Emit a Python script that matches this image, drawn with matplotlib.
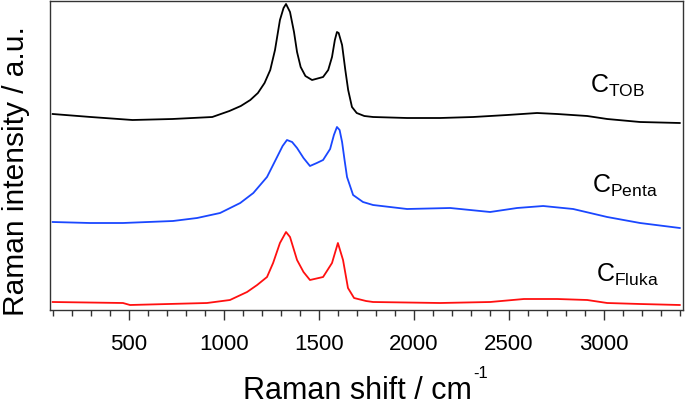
import numpy as np
import matplotlib
matplotlib.use("Agg")
import matplotlib.pyplot as plt
from matplotlib.ticker import MultipleLocator

plt.rcParams['font.family'] = ['Liberation Sans', 'DejaVu Sans']
plt.rcParams['mathtext.fontset'] = 'custom'
plt.rcParams['mathtext.rm'] = 'Liberation Sans'
plt.rcParams['mathtext.it'] = 'Liberation Sans:italic'

# spectra (wavenumber in cm-1, intensity in a.u. incl. offset)
w_tob = [100, 300, 520, 730, 940, 1030, 1090, 1140, 1180, 1215, 1245, 1270, 1296,
         1315, 1328, 1349, 1370, 1386, 1405, 1430, 1465, 1523, 1550, 1570, 1585,
         1596, 1605, 1623, 1640, 1655, 1675, 1700, 1740, 1786, 1965, 2139, 2313,
         2492, 2649, 2755, 2913, 3018, 3191, 3400]
i_tob = [196, 193, 190, 191, 193, 199, 204, 210, 217, 227, 240, 260, 290,
         302, 306, 298, 278, 258, 243, 234, 230, 233, 240, 253, 270,
         278, 277, 265, 240, 220, 203, 197, 194, 193, 192, 192, 193,
         195, 197, 196, 194, 191, 188, 187]

w_penta = [100, 296, 470, 733, 860, 981, 1087, 1156, 1228, 1281, 1310, 1333, 1360,
           1386, 1420, 1454, 1490, 1523, 1560, 1580, 1596, 1610, 1623, 1636, 1649,
           1681, 1733, 1786, 1965, 2192, 2402, 2544, 2681, 2839, 3018, 3191, 3400]
i_penta = [88, 87, 87, 89, 92, 97, 107, 117, 133, 153, 164, 170, 168,
           162, 152, 144, 147, 150, 161, 175, 183, 180, 168, 150, 133,
           115, 108, 105, 101, 102, 98, 102, 104, 101, 93, 87, 82]

w_fluka = [100, 470, 507, 912, 1033, 1123, 1176, 1228, 1260, 1296, 1328, 1349,
           1386, 1420, 1454, 1523, 1570, 1601, 1628, 1654, 1686, 1749, 1786, 2139,
           2402, 2580, 2755, 2913, 3018, 3191, 3400]
i_fluka = [8, 7, 5, 7, 10, 18, 25, 33, 47, 67, 78, 73,
           50, 38, 30, 33, 47, 67, 50, 22, 12, 9, 8, 7,
           8, 11, 11, 10, 7, 6, 5]

names = [r'C$_{\mathrm{TOB}}$', r'C$_{\mathrm{Penta}}$', r'C$_{\mathrm{Fluka}}$']
name_x = [2928, 2940, 2960]
name_y = [217, 117, 28]

W, H = 685, 405
fig = plt.figure(figsize=(W/100, H/100), dpi=100)
ax = fig.add_axes([50/W, 1 - 310/H, 633/W, 309/H])

ax.plot(w_tob, i_tob, color='black', lw=1.3)
ax.plot(w_penta, i_penta, color='#1a47ff', lw=1.3)
ax.plot(w_fluka, i_fluka, color='#ff1010', lw=1.3)

for n, x, y in zip(names, name_x, name_y):
    ax.text(x, y, n, fontsize=18, va='baseline', ha='left')

ax.set_xlim(86, 3417)
ax.set_ylim(0, 309)
ax.set_yticks([])
ax.xaxis.set_major_locator(MultipleLocator(500))
ax.xaxis.set_minor_locator(MultipleLocator(100))
ax.set_xticks([500, 1000, 1500, 2000, 2500, 3000])
ax.tick_params(axis='x', which='major', direction='out', length=7, width=1,
               labelsize=16, pad=10, color='#333333')
ax.tick_params(axis='x', which='minor', direction='out', length=4, width=1,
               color='#333333')
for s in ax.spines.values():
    s.set_color('#333333')
    s.set_linewidth(1.0)

# axis titles placed by hand (figure pixels)
fig.text(243/W, 1 - 399/H, 'Raman shift / cm', fontsize=22, ha='left', va='baseline')
fig.text(473/W, 1 - 378/H, '-1', fontsize=12, ha='left', va='baseline')
fig.text(16/W, 1 - 171/H, 'Raman intensity / a.u.', fontsize=21.5, rotation=90,
         ha='center', va='center')

fig.savefig('out.png', dpi=100)
